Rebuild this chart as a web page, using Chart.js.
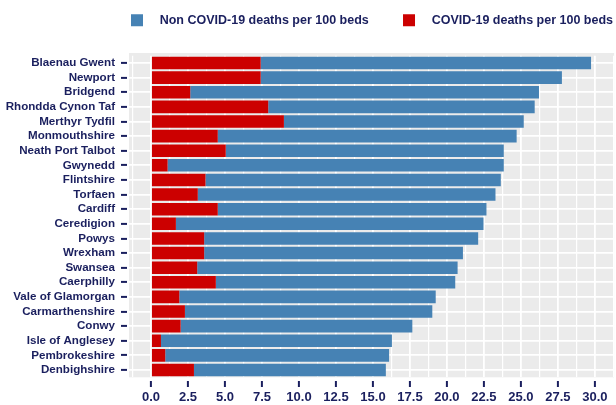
<!DOCTYPE html>
<html>
<head>
<meta charset="utf-8">
<script src="https://cdn.jsdelivr.net/npm/chart.js@4"></script>
<style>
  body { margin: 0; background: #fff; }
  canvas { display: block; }
</style>
</head>
<body>
<canvas id="bedsChart" width="616" height="405"></canvas>
<script>
// Welsh local authorities, sorted by total deaths per 100 beds
const areas = [
  'Blaenau Gwent', 'Newport', 'Bridgend', 'Rhondda Cynon Taf', 'Merthyr Tydfil',
  'Monmouthshire', 'Neath Port Talbot', 'Gwynedd', 'Flintshire', 'Torfaen',
  'Cardiff', 'Ceredigion', 'Powys', 'Wrexham', 'Swansea', 'Caerphilly',
  'Vale of Glamorgan', 'Carmarthenshire', 'Conwy', 'Isle of Anglesey',
  'Pembrokeshire', 'Denbighshire'
];

const covidDeaths = [
  7.41, 7.41, 2.65, 7.92, 8.98, 4.51, 5.05, 1.12, 3.68, 3.16, 4.51,
  1.68, 3.59, 3.59, 3.12, 4.38, 1.91, 2.29, 2.00, 0.67, 0.96, 2.90
];

const nonCovidDeaths = [
  22.33, 20.36, 23.57, 18.01, 16.21, 20.20, 18.79, 22.72, 19.96, 20.12, 18.16,
  20.79, 18.52, 17.49, 17.60, 16.18, 17.33, 16.72, 15.66, 15.61, 15.13, 12.97
];

const seriesNames = ['COVID-19 deaths per 100 beds', 'Non COVID-19 deaths per 100 beds'];
const xTicks = [0, 2.5, 5, 7.5, 10, 12.5, 15, 17.5, 20, 22.5, 25, 27.5, 30];
const xMinorTicks = [-1.25, 1.25, 3.75, 6.25, 8.75, 11.25, 13.75, 16.25, 18.75, 21.25, 23.75, 26.25, 28.75, 31.25];

const NAVY = '#1a1f5e';
const PANEL = '#ebebeb';

// grey ggplot-like panel behind the grid
const panelBackground = {
  id: 'panelBackground',
  beforeDraw(chart) {
    const a = chart.chartArea;
    const ctx = chart.ctx;
    ctx.save();
    ctx.fillStyle = PANEL;
    ctx.fillRect(a.left, a.top - 2.7, a.right - a.left, a.bottom - a.top + 2.7);
    ctx.restore();
  }
};

// leave room between legend and plot
const legendSpace = {
  id: 'legendSpace',
  beforeInit(chart) {
    const fit = chart.legend.fit;
    chart.legend.fit = function () {
      fit.call(this);
      this.height = 44.7;
    };
  }
};

const tickFont = { family: 'Liberation Sans', weight: 'bold' };

new Chart(document.getElementById('bedsChart'), {
  type: 'bar',
  data: {
    labels: areas,
    datasets: [
      {
        label: seriesNames[0],
        data: covidDeaths,
        backgroundColor: '#cc0000',
        borderWidth: 0
      },
      {
        label: seriesNames[1],
        data: nonCovidDeaths,
        backgroundColor: '#4682b4',
        borderWidth: 0
      }
    ]
  },
  options: {
    responsive: false,
    animation: false,
    indexAxis: 'y',
    layout: { padding: { top: 11, bottom: 0, left: 0, right: 0 } },
    datasets: {
      bar: { categoryPercentage: 1, barPercentage: 0.86 }
    },
    scales: {
      x: {
        type: 'linear',
        stacked: true,
        min: -1.49,
        max: 31.3,
        afterBuildTicks: scale => {
          scale.ticks = xTicks.concat(xMinorTicks)
            .sort((a, b) => a - b)
            .map(v => ({ value: v }));
        },
        afterFit: scale => { scale.height = 27.7; },
        border: { display: false },
        grid: {
          color: '#ffffff',
          lineWidth: ctx => (xTicks.includes(ctx.tick.value) ? 1.8 : 1.2),
          tickColor: ctx => (xTicks.includes(ctx.tick.value) ? NAVY : 'rgba(0,0,0,0)'),
          tickWidth: 2,
          tickLength: 10,
          tickBorderDash: [6, 100],
          tickBorderDashOffset: 102
        },
        ticks: {
          autoSkip: false,
          maxRotation: 0,
          padding: 2.6,
          color: NAVY,
          font: { ...tickFont, size: 13 },
          callback: value => (xTicks.includes(value) ? value.toFixed(1) : '')
        }
      },
      y: {
        stacked: true,
        afterFit: scale => { scale.width = 129; },
        border: { display: false },
        grid: {
          offset: false,
          color: '#ffffff',
          lineWidth: 1.8,
          tickColor: NAVY,
          tickWidth: 2,
          tickLength: 8,
          tickBorderDash: [6, 100]
        },
        ticks: {
          autoSkip: false,
          padding: 6,
          color: NAVY,
          font: { ...tickFont, size: 11.6 }
        }
      }
    },
    plugins: {
      legend: {
        position: 'top',
        align: 'end',
        reverse: true,
        labels: {
          boxWidth: 12,
          boxHeight: 12,
          padding: 3,
          color: NAVY,
          font: { family: 'Liberation Sans', size: 12.5, weight: 'bold' },
          // widen the key-to-text gap and the gap between the two entries
          generateLabels: chart => Chart.defaults.plugins.legend.labels.generateLabels(chart)
            .map(item => {
              item.text = '   ' + item.text + (item.datasetIndex === 1 ? '         ' : '');
              return item;
            })
        }
      },
      tooltip: { enabled: false }
    }
  },
  plugins: [panelBackground, legendSpace]
});
</script>
</body>
</html>
